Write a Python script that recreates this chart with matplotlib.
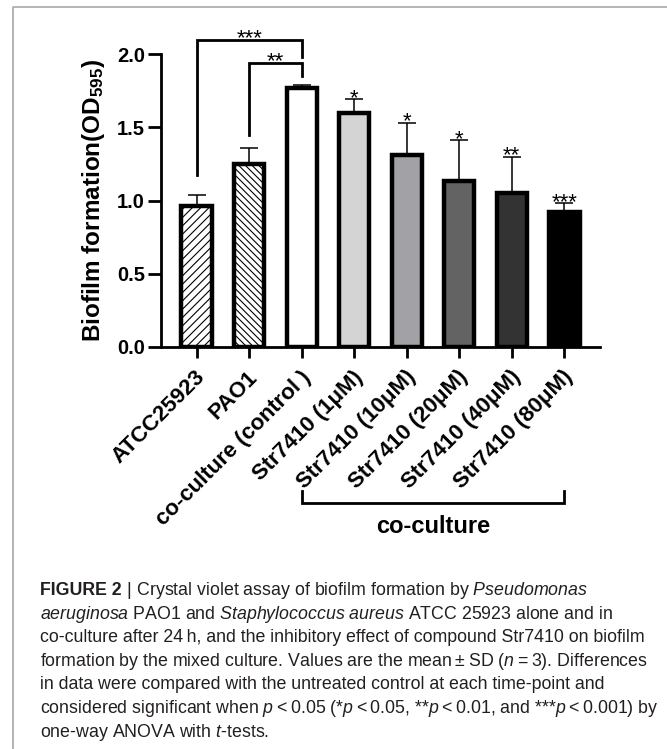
import numpy as np
import matplotlib
matplotlib.use("Agg")
import matplotlib.pyplot as plt
import matplotlib.transforms as mtransforms
from matplotlib.lines import Line2D

# Biofilm (OD595) per group, mean and SD (n = 3)
groups = ["ATCC25923", "PAO1", "co-culture (control )", "Str7410 (1μM)",
          "Str7410 (10μM)", "Str7410 (20μM)", "Str7410 (40μM)", "Str7410 (80μM)"]
means = [0.96, 1.25, 1.77, 1.60, 1.31, 1.13, 1.05, 0.92]
sds = [0.08, 0.11, 0.02, 0.09, 0.22, 0.28, 0.25, 0.06]
stars = ["", "", "", "*", "*", "*", "**", "***"]

# pairwise comparisons against the untreated co-culture
comparisons = [(0, 2, "***"), (1, 2, "**")]

bar_colors = ["white", "white", "white", "#d4d4d4", "#a2a2a6", "#636363", "#333333", "black"]
bar_hatches = ["////", "\\\\\\\\\\", None, None, None, None, None, None]

cap_font = "Liberation Sans"

plt.rcParams["font.family"] = ["Liberation Sans", "DejaVu Sans"]
plt.rcParams["mathtext.fontset"] = "custom"
plt.rcParams["mathtext.bf"] = "Liberation Sans:bold"
plt.rcParams["mathtext.it"] = cap_font + ":italic"
plt.rcParams["mathtext.rm"] = cap_font
plt.rcParams["hatch.linewidth"] = 0.8

W, H = 667, 749
fig = plt.figure(figsize=(W / 100, H / 100), dpi=100)
ax = fig.add_axes([161 / W, 1 - 347 / H, (600 - 161) / W, (347 - 54) / H])

x = np.arange(len(groups))
ax.bar(x, means, width=0.58, color=bar_colors, edgecolor="black",
       linewidth=3.2, hatch=bar_hatches, zorder=2)
ax.errorbar(x, means, yerr=[np.zeros(len(x)), sds], fmt="none", ecolor="black",
            elinewidth=1.1, capsize=6.5, capthick=1.1, zorder=3)

for xi, m, s, st in zip(x, means, sds, stars):
    if st:
        ax.text(xi, m + s - 0.03, st, ha="center", va="baseline", fontsize=16)

# brackets above the first bars
bracket_tops = [2.096, 1.937]
left_feet = [1.174, 1.447]
right_feet = [1.98, 1.85]
for (a, b, st), top, lf, rf in zip(comparisons, bracket_tops, left_feet, right_feet):
    ax.plot([a, a, b, b], [lf, top, top, rf], color="black", lw=2,
            solid_joinstyle="miter", clip_on=False)
    ax.text((a + b) / 2, top - 0.027, st, ha="center", va="baseline",
            fontsize=16, clip_on=False)

ax.set_xlim(-0.68, 7.68)
ax.set_ylim(0, 2.0)
ax.set_yticks([0, 0.5, 1.0, 1.5, 2.0], ["0.0", "0.5", "1.0", "1.5", "2.0"])
for side in ["top", "right"]:
    ax.spines[side].set_visible(False)
for side in ["left", "bottom"]:
    ax.spines[side].set_linewidth(2)
ax.tick_params(axis="y", length=9.5, width=2, labelsize=14.5, pad=2)
ax.tick_params(axis="x", length=8, width=2, pad=11.5)
for lab in ax.get_yticklabels():
    lab.set_fontweight("bold")

ax.set_xticks(x, groups, rotation=45, ha="right", va="center",
              rotation_mode="anchor", fontsize=16, fontweight="bold")
shift = mtransforms.ScaledTranslation(4 / 72, 0, fig.dpi_scale_trans)
for lab in ax.get_xticklabels():
    lab.set_transform(lab.get_transform() + shift)

ax.set_ylabel(r"Biofilm formation(OD$_{\mathbf{595}}$)", fontsize=17.5,
              fontweight="bold", labelpad=7)

# co-culture group bracket under the labels
trans = ax.get_xaxis_transform()
ax.plot([2, 2, 7, 7], [-0.490, -0.532, -0.532, -0.490], color="black", lw=2,
        solid_joinstyle="miter", transform=trans, clip_on=False)
ax.text(4.5, -0.611, "co-culture", transform=trans, ha="center", va="center",
        fontsize=17, fontweight="bold")

# page frame
fc = "#a8a8a8"
fig.add_artist(Line2D([13 / W, 13 / W, 1.0], [0, 1 - 7 / H, 1 - 7 / H],
                      transform=fig.transFigure, color=fc, lw=1.2))

# caption
cap_color = "#231f20"
cap_lines = [
    r" | Crystal violet assay of biofilm formation by $\mathit{Pseudomonas}$",
    r"$\mathit{aeruginosa}$ PAO1 and $\mathit{Staphylococcus\ aureus}$ ATCC 25923 alone and in",
    "co-culture after 24\u2009h, and the inhibitory effect of compound Str7410 on biofilm",
    "formation by the mixed culture. Values are the mean\u2009±\u2009SD ($\\mathit{n}$\u2009=\u20093). Differences",
    "in data were compared with the untreated control at each time-point and",
    "considered significant when $\\mathit{p}$\u2009<\u20090.05 (*$\\mathit{p}$\u2009<\u20090.05, "
    "**$\\mathit{p}$\u2009<\u20090.01, and ***$\\mathit{p}$\u2009<\u20090.001) by",
    r"one-way ANOVA with $\mathit{t}$-tests.",
]

x0, x1 = 40, 655
base0 = 595
step = 23.6
size0 = 12
renderer = fig.canvas.get_renderer()
head = fig.text(x0 / W, 1 - base0 / H, "FIGURE 2", fontweight="bold",
                fontsize=size0, color=cap_color, va="baseline")
body = [fig.text(x0 / W, 1 - (base0 + i * step) / H, line, fontsize=size0,
                 color=cap_color, va="baseline") for i, line in enumerate(cap_lines)]

# scale the caption so its widest line fills the text column
head_w = head.get_window_extent(renderer).width
widths = [t.get_window_extent(renderer).width + (head_w if i == 0 else 0)
          for i, t in enumerate(body)]
cap_size = size0 * (x1 - x0) / max(widths)
head.set_fontsize(cap_size)
for t in body:
    t.set_fontsize(cap_size)
head_w = head.get_window_extent(renderer).width
body[0].set_x((x0 + head_w) / W)

fig.savefig("out.png", dpi=100)
